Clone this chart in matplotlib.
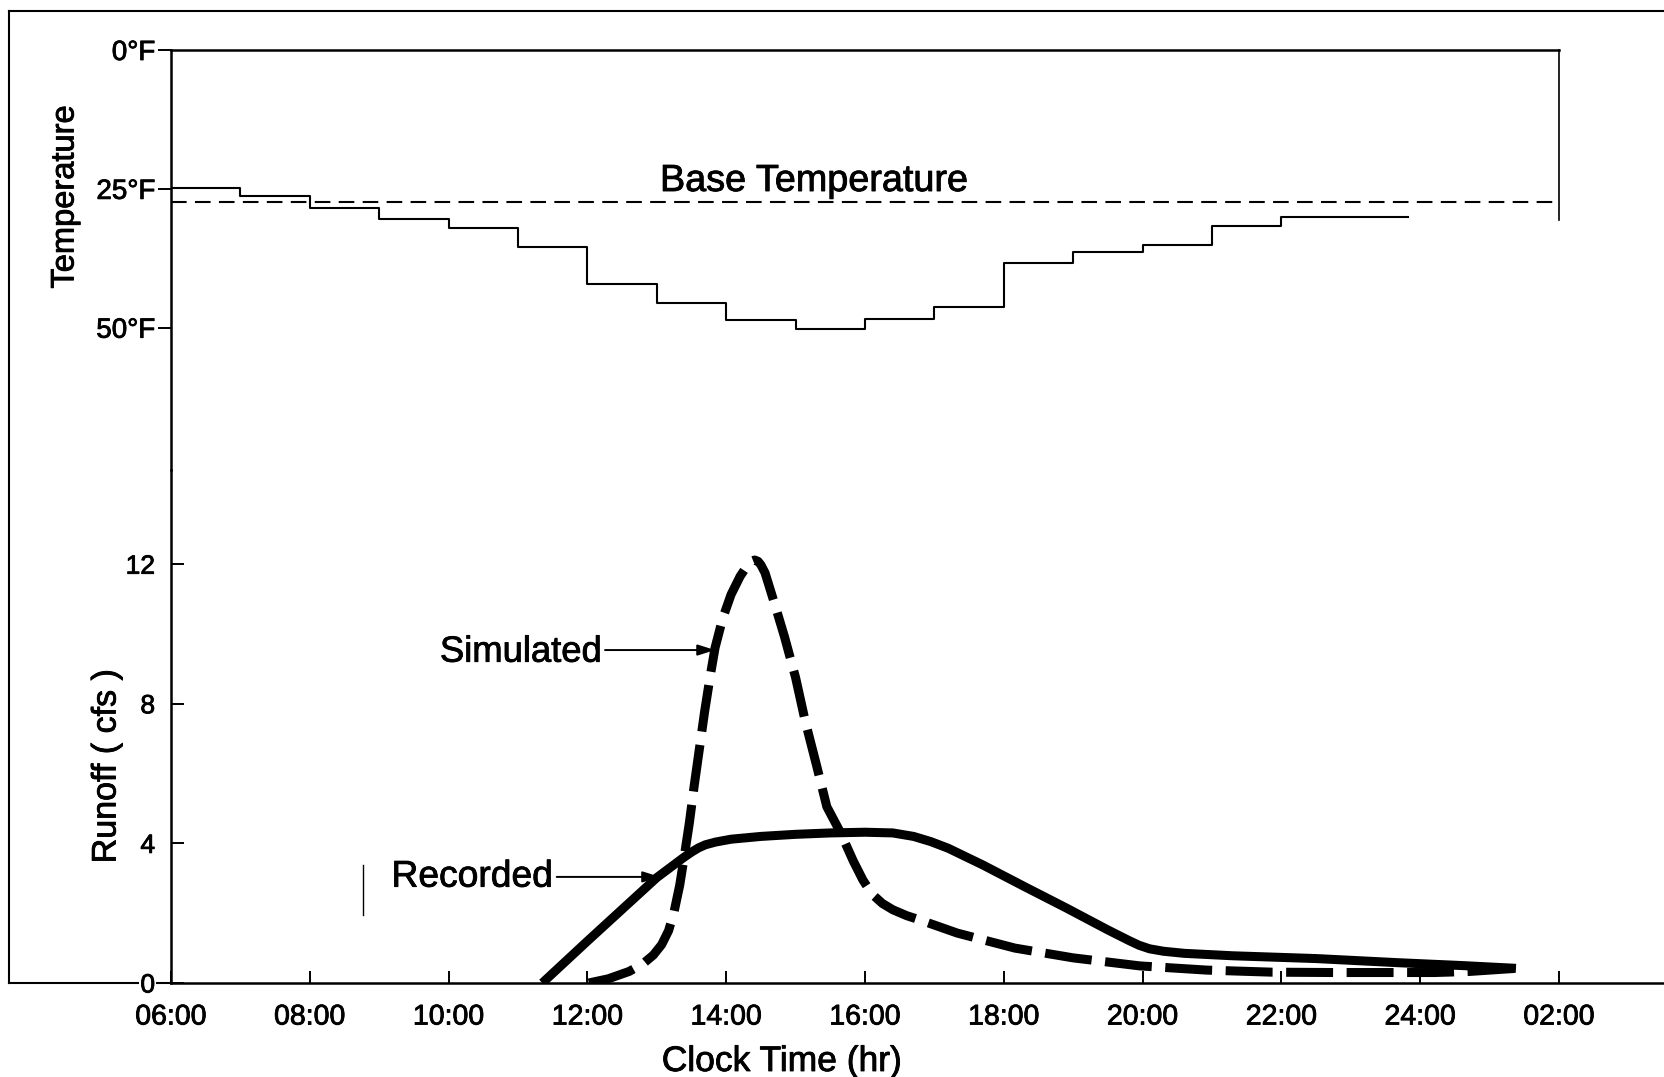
import matplotlib
matplotlib.use("Agg")
import matplotlib.pyplot as plt
import matplotlib.patheffects as pe
from matplotlib.lines import Line2D

plt.rcParams['font.family'] = ['Liberation Sans', 'DejaVu Sans']

# ---------------- data ----------------
# temperature step series: value of each hourly step starting at the given clock hour
temp_hours = [6, 7, 8, 9, 10, 11, 12, 13, 14, 15, 16, 17, 18, 19, 20, 21, 22]
temp_values = [24.8, 26.2, 28.5, 30.5, 32.1, 35.4, 42.1, 45.5, 48.7, 50.3,
               48.5, 46.2, 38.4, 36.4, 35.1, 31.6, 30.1]
temp_end_hour = 23.83
base_temperature = 27.4
temp_ticks = [0, 25, 50]
temp_tick_labels = ['0°F', '25°F', '50°F']

# runoff (clock hours, cfs); 24 = midnight, 26 = 02:00
rec_hours = [11.35, 12.0, 13.0, 13.39, 13.5, 13.6, 13.7, 13.85, 14.07, 14.5,
             15.0, 15.5, 16.0, 16.4, 16.7, 16.95, 17.2, 17.7, 18.3, 18.9,
             19.5, 19.8, 19.95, 20.1, 20.3, 20.6, 21.3, 21.9, 22.5, 23.7,
             24.6, 25.38]
rec_cfs = [0.0, 1.2, 3.02, 3.6, 3.75, 3.87, 3.96, 4.04, 4.12, 4.2,
           4.26, 4.3, 4.32, 4.3, 4.2, 4.05, 3.86, 3.38, 2.76, 2.15,
           1.52, 1.22, 1.08, 0.98, 0.91, 0.85, 0.78, 0.74, 0.7, 0.58,
           0.5, 0.42]

sim_hours = [12.02, 12.3, 12.6, 12.8, 12.95, 13.07, 13.17, 13.25, 13.33, 13.39,
             13.47, 13.54, 13.62, 13.69, 13.77, 13.84, 13.95, 14.07, 14.2, 14.3,
             14.36, 14.41, 14.46, 14.5, 14.56, 14.7, 14.84, 15.0, 15.14, 15.3,
             15.45, 15.65, 15.83, 15.97, 16.1, 16.25, 16.4, 16.6, 16.8, 17.33,
             18.16, 19.0, 19.96, 20.92, 21.87, 22.77, 23.67, 24.2, 24.7, 25.38]
sim_cfs = [0.0, 0.12, 0.33, 0.55, 0.8, 1.1, 1.5, 2.05, 2.8, 3.55,
           4.6, 5.67, 6.8, 7.79, 8.8, 9.61, 10.45, 11.13, 11.65, 11.95,
           12.08, 12.12, 12.08, 11.98, 11.75, 10.85, 9.92, 8.75, 7.49, 6.25,
           5.05, 4.3, 3.5, 2.95, 2.55, 2.28, 2.1, 1.93, 1.8, 1.43,
           1.0, 0.72, 0.49, 0.37, 0.31, 0.3, 0.3, 0.3, 0.33, 0.42]

runoff_ticks = [0, 4, 8, 12]
time_ticks = [6, 8, 10, 12, 14, 16, 18, 20, 22, 24, 26]
time_tick_labels = ['06:00', '08:00', '10:00', '12:00', '14:00', '16:00',
                    '18:00', '20:00', '22:00', '24:00', '02:00']

# ---------------- layout (pixels of the 1664x1077 canvas) ----------------
W, H, DPI = 1664, 1077, 100
X0 = 171.0          # pixel of 06:00
PX_HR = 69.4        # pixels per hour
XR_TOP = X0 + 20 * PX_HR
Y_T0 = 50.0         # pixel of 0 F
PX_F = 5.554
Y_Q0 = 983.0        # pixel of 0 cfs
PX_Q = 34.9
SPLIT = 470.0

def fx(p):
    return p / W

def fy(p):
    return 1 - p / H

heavy = [pe.withStroke(linewidth=0.6, foreground='black')]

fig = plt.figure(figsize=(W / DPI, H / DPI), dpi=DPI)
fig.patch.set_facecolor('white')

LW_AX = 1.8

# ---------- top panel: temperature ----------
ax_t = fig.add_axes([fx(X0), fy(SPLIT), (XR_TOP - X0) / W, (SPLIT - Y_T0) / H])
ax_t.set_facecolor('none')
ax_t.set_xlim(6, 26)
ax_t.set_ylim((SPLIT - Y_T0) / PX_F, 0)
ax_t.spines['bottom'].set_visible(False)
ax_t.spines['top'].set_linewidth(LW_AX)
ax_t.spines['left'].set_linewidth(LW_AX)
ax_t.spines['right'].set_linewidth(1.2)
ax_t.spines['right'].set_bounds(0, 30.6)
ax_t.set_xticks([])
ax_t.set_yticks(temp_ticks)
ax_t.set_yticklabels(temp_tick_labels)
ax_t.tick_params(axis='y', direction='out', length=9.4, width=1.4, pad=2.0,
                 labelsize=20)

ax_t.step(temp_hours + [temp_end_hour], temp_values + [temp_values[-1]],
          where='post', color='black', lw=1.5)
ax_t.axhline(base_temperature, color='black', lw=1.5, linestyle=(0, (7.5, 4.0)))
ax_t.text(15.265, 25.39, 'Base Temperature', ha='center', va='baseline',
          fontsize=27.2, path_effects=heavy)

# ---------- bottom panel: runoff ----------
ax_q = fig.add_axes([fx(X0), fy(Y_Q0), (W - X0) / W, (Y_Q0 - SPLIT) / H])
ax_q.set_facecolor('none')
ax_q.set_xlim(6, 6 + (W - X0) / PX_HR)
ax_q.set_ylim(0, (Y_Q0 - SPLIT) / PX_Q)
ax_q.spines['top'].set_visible(False)
ax_q.spines['right'].set_visible(False)
ax_q.spines['left'].set_linewidth(LW_AX)
ax_q.spines['bottom'].set_linewidth(LW_AX)
ax_q.set_yticks(runoff_ticks)
ax_q.set_yticklabels([str(v) for v in runoff_ticks])
ax_q.tick_params(axis='y', direction='in', length=9.4, width=1.4, pad=11.5,
                 labelsize=19)
ax_q.set_xticks(time_ticks)
ax_q.set_xticklabels(time_tick_labels)
ax_q.tick_params(axis='x', direction='in', length=8.6, width=1.4, pad=15.5,
                 labelsize=20.5)
ax_q.get_yticklabels()[0].set_bbox(dict(facecolor='white', edgecolor='none', pad=1.0))

for lab in ax_t.get_yticklabels() + ax_q.get_yticklabels() + ax_q.get_xticklabels():
    lab.set_path_effects(heavy)

ax_q.plot(rec_hours, rec_cfs, color='black', lw=6.5,
          solid_capstyle='butt', solid_joinstyle='round', zorder=3)
ax_q.plot(sim_hours, sim_cfs, color='black', lw=6.5, linestyle=(0, (5.2, 1.5)),
          dash_capstyle='butt', dash_joinstyle='round', zorder=3)

ax_q.text(12.206, 9.206, 'Simulated', ha='right', va='baseline', fontsize=26.2,
          path_effects=heavy)
ax_q.text(11.504, 2.76, 'Recorded', ha='right', va='baseline', fontsize=26.8,
          path_effects=heavy)
arrow = dict(arrowstyle='-|>,head_length=0.7,head_width=0.22', lw=1.4,
             color='black', mutation_scale=15, shrinkA=0, shrinkB=0)
ax_q.annotate('', xy=(13.839, 9.54), xytext=(12.254, 9.54), arrowprops=arrow)
ax_q.annotate('', xy=(13.046, 3.04), xytext=(11.558, 3.04), arrowprops=arrow)
# stray vertical mark present in the source figure
ax_q.plot([8.76, 8.76], [1.95, 3.38], color='black', lw=1.0)

# ---------- outer frame ----------
for xs, ys in (([8.5, 8.5], [11, Y_Q0]),
               ([8.5, W], [11, 11]),
               ([8.5, X0], [Y_Q0, Y_Q0])):
    fig.add_artist(Line2D([fx(x) for x in xs], [fy(y) for y in ys],
                          transform=fig.transFigure, color='black', lw=1.5,
                          zorder=-1))

# ---------- axis titles ----------
fig.text(fx(65), fy(197), 'Temperature', rotation=90, ha='center', va='center',
         fontsize=23.5, path_effects=heavy)
fig.text(fx(107), fy(766), 'Runoff ( cfs )', rotation=90, ha='center',
         va='center', fontsize=24.5, path_effects=heavy)
fig.text(fx(782), fy(1071), 'Clock Time (hr)', ha='center', va='baseline',
         fontsize=25.5, path_effects=heavy)

fig.savefig('out.png', dpi=DPI, facecolor='white')
